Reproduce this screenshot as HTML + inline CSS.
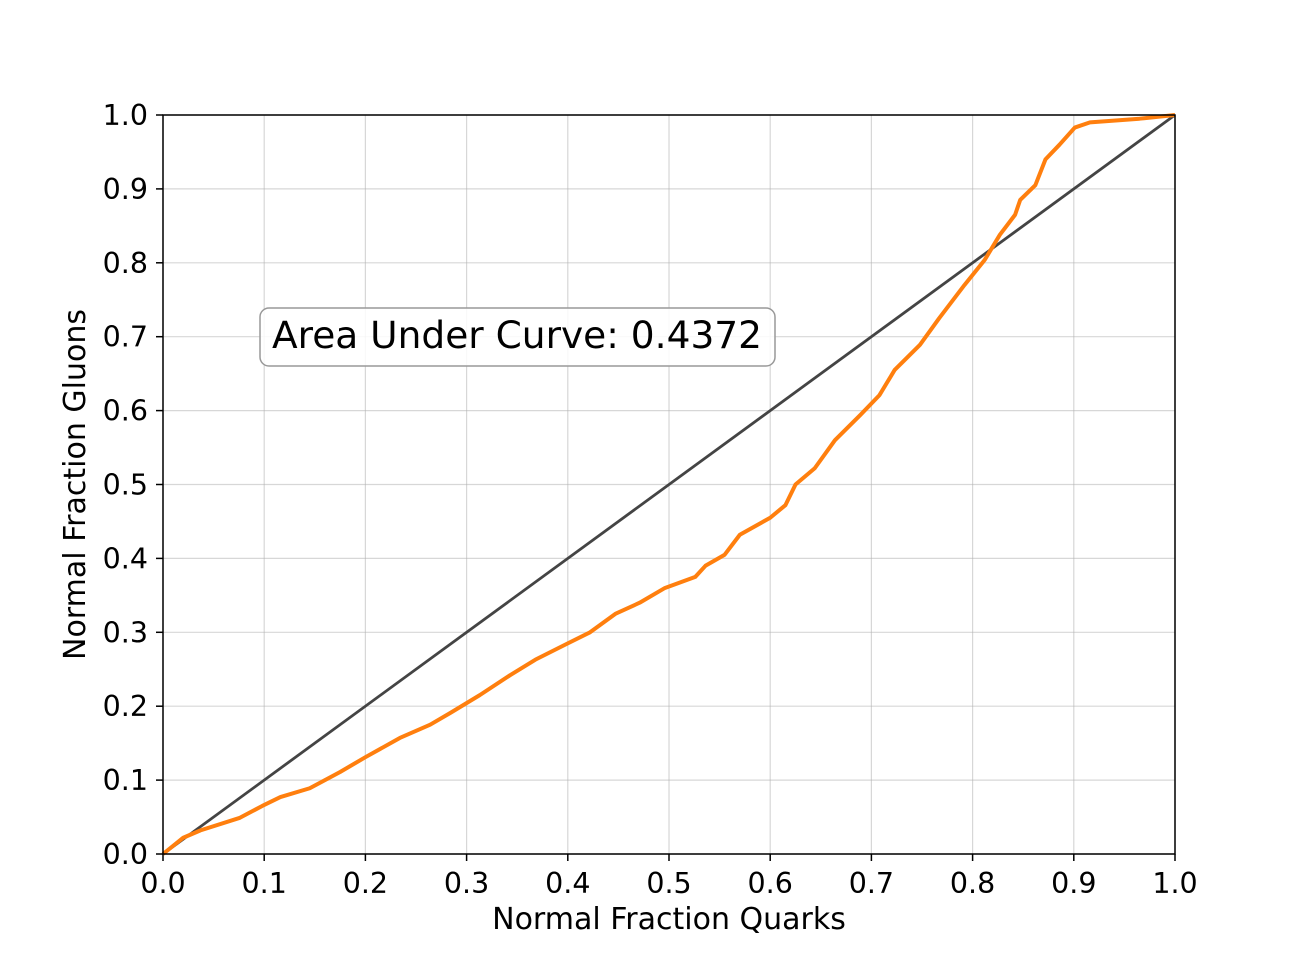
<!DOCTYPE html>
<html><head><meta charset="utf-8"><style>
body{margin:0;background:#fff}
svg{display:block;font-family:"DejaVu Sans","Liberation Sans",sans-serif}
</style></head><body>
<svg id="chart" width="1305" height="960"></svg>
<script>
const xTicks=[0,0.1,0.2,0.3,0.4,0.5,0.6,0.7,0.8,0.9,1.0];
const yTicks=[0,0.1,0.2,0.3,0.4,0.5,0.6,0.7,0.8,0.9,1.0];
const curveX=[0,0.02,0.037,0.076,0.098,0.116,0.145,0.175,0.2,0.234,0.264,0.284,0.313,0.343,0.368,0.397,0.422,0.447,0.471,0.496,0.526,0.536,0.555,0.57,0.6,0.615,0.625,0.644,0.664,0.689,0.708,0.723,0.748,0.767,0.792,0.812,0.827,0.842,0.847,0.862,0.872,0.886,0.901,0.916,0.965,1];
const curveY=[0,0.022,0.032,0.049,0.065,0.077,0.089,0.111,0.131,0.157,0.175,0.191,0.215,0.242,0.263,0.283,0.3,0.325,0.34,0.36,0.375,0.39,0.405,0.432,0.455,0.472,0.5,0.522,0.56,0.594,0.621,0.655,0.689,0.725,0.77,0.804,0.838,0.865,0.885,0.905,0.94,0.96,0.983,0.99,0.995,1];
const aucText="Area Under Curve: 0.4372";
const L=163,R=1175,T=115,B=854;
const sx=v=>L+v*(R-L), sy=v=>B-v*(B-T);
const NS="http://www.w3.org/2000/svg";
const svg=document.getElementById('chart');
function mk(tag,attrs,parent){const e=document.createElementNS(NS,tag);for(const k in attrs)e.setAttribute(k,attrs[k]);(parent||svg).appendChild(e);return e;}
const grid=mk('g',{});


xTicks.forEach(t=>{
  const l=mk('line',{x1:sx(t),x2:sx(t),y1:T,y2:B,stroke:'#b0b0b0','stroke-opacity':0.5,'stroke-width':1.2},grid);
  
  
  mk('line',{x1:sx(t),x2:sx(t),y1:B,y2:B+7,stroke:'#000','stroke-width':1.5});
  const tx=mk('text',{x:sx(t),y:B+39,'text-anchor':'middle','font-size':28.5,fill:'#000'});
  tx.textContent=t.toFixed(1);
  
  
});
yTicks.forEach(t=>{
  const l=mk('line',{x1:L,x2:R,y1:sy(t),y2:sy(t),stroke:'#b0b0b0','stroke-opacity':0.5,'stroke-width':1.2},grid);
  
  
  mk('line',{x1:L-7,x2:L,y1:sy(t),y2:sy(t),stroke:'#000','stroke-width':1.5});
  const tx=mk('text',{x:L-15,y:sy(t)+10,'text-anchor':'end','font-size':28.5,fill:'#000'});
  tx.textContent=t.toFixed(1);
  
  
});
const diag=mk('line',{x1:sx(0),y1:sy(0),x2:sx(1),y2:sy(1),stroke:'#444','stroke-width':2.8});


const pts=curveX.map((x,i)=>sx(x)+','+sy(curveY[i])).join(' ');
const curve=mk('polyline',{points:pts,fill:'none',stroke:'#ff7f0e','stroke-width':4,'stroke-linejoin':'round'});


const frame=mk('rect',{x:L,y:T,width:R-L,height:B-T,fill:'none',stroke:'#000','stroke-width':1.5});


const box=mk('rect',{x:260,y:308,width:515,height:58,rx:9,fill:'#fff','fill-opacity':0.85,stroke:'#999','stroke-width':1.5});


const at=mk('text',{x:517,y:348,'text-anchor':'middle','font-size':37.5,fill:'#000'});
at.textContent=aucText;


const xl=mk('text',{x:(L+R)/2,y:929,'text-anchor':'middle','font-size':30,fill:'#000'});
xl.textContent='Normal Fraction Quarks';


const yl=mk('text',{x:0,y:0,'text-anchor':'middle','font-size':30,fill:'#000',transform:'translate(85,'+((T+B)/2)+') rotate(-90)'});
yl.textContent='Normal Fraction Gluons';


</script>
</body></html>
